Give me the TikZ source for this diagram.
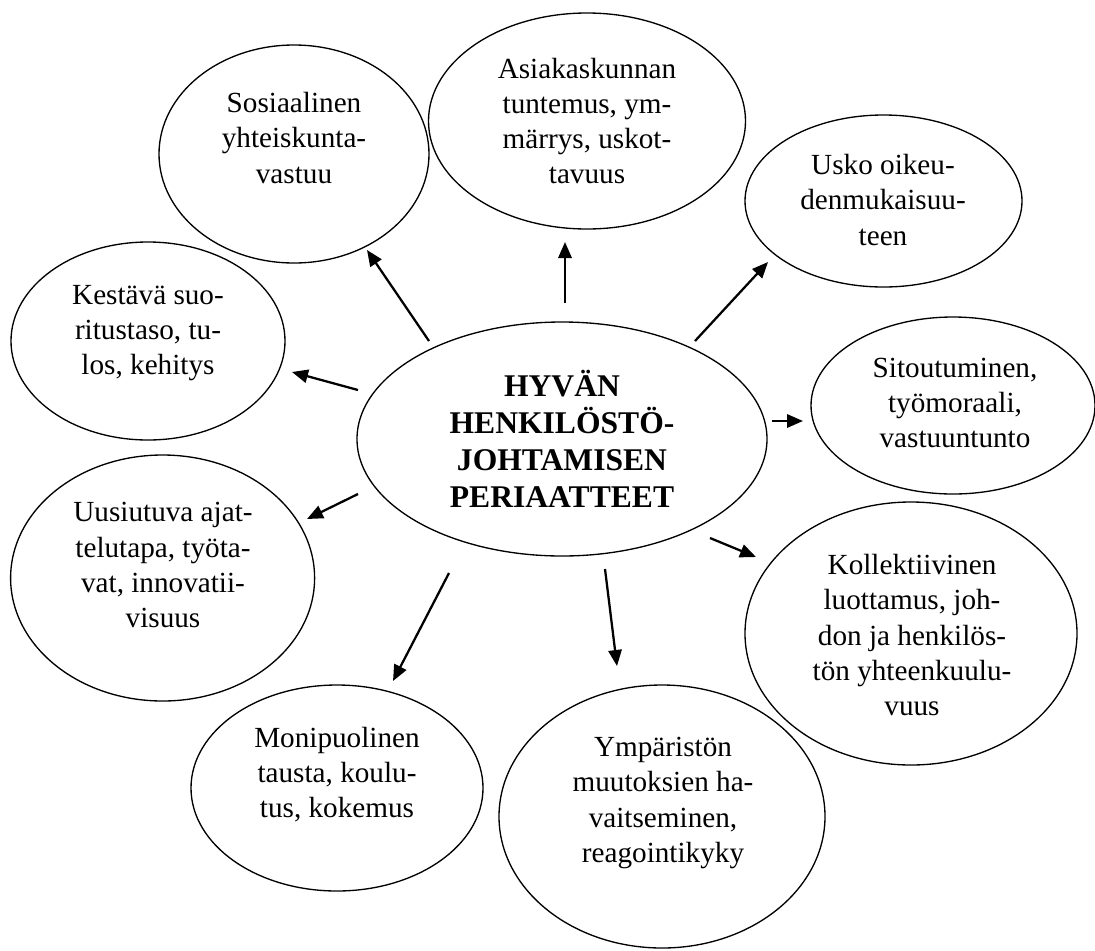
\documentclass[tikz,border=0pt]{standalone}
\usepackage{fontspec}
\setmainfont{Liberation Serif}
\usetikzlibrary{shapes.geometric,arrows.meta}
\begin{document}
\begin{tikzpicture}[x=0.75pt,y=-0.75pt,
  bubble/.style 2 args={ellipse,draw,line width=1pt,inner sep=0pt,
    minimum width=#1*1.5pt,minimum height=#2*1.5pt},
  txt/.style={align=center,inner sep=0pt,font=\fontsize{21.9}{26.3}\selectfont},
  headtxt/.style={align=center,inner sep=0pt,font=\bfseries\fontsize{23.7}{27.8}\selectfont},
  arr/.style={line width=1.7pt,-{Triangle[length=12pt,width=10pt]}}]
\useasboundingbox (0,0) rectangle (1095,950);

% central principle
\node[bubble={205}{117}] (hub) at (562,439) {};
\node[headtxt] (hubT) at (562,439) {HYVÄN\\HENKILÖSTÖ-\\JOHTAMISEN\\PERIAATTEET};

% surrounding principles
\node[bubble={135}{109}] (sos) at (294,154) {};
\node[txt] (sosT) at (294,138) {Sosiaalinen\\yhteiskunta-\\vastuu};

\node[bubble={158.5}{108}] (asi) at (587,121) {};
\node[txt] (asiT) at (587,121) {Asiakaskunnan\\tuntemus, ym-\\märrys, uskot-\\tavuus};

\node[bubble={138.5}{86}] (usk) at (883.5,201) {};
\node[txt] (uskT) at (883,200) {Usko oikeu-\\denmukaisuu-\\teen};

\node[bubble={137}{99}] (kes) at (148,341) {};
\node[txt] (kesT) at (148,333) {Kestävä suo-\\ritustaso, tu-\\los, kehitys};

\node[bubble={142}{88.5}] (sit) at (953,405.5) {};
\node[txt] (sitT) at (955,403) {Sitoutuminen,\\työmoraali,\\vastuuntunto};

\node[bubble={152}{123}] (uus) at (162.6,578) {};
\node[txt] (uusT) at (163,565) {Uusiutuva ajat-\\telutapa, työta-\\vat, innovatii-\\visuus};

\node[bubble={166}{131.5}] (kol) at (911,633.5) {};
\node[txt] (kolT) at (912,635) {Kollektiivinen\\luottamus, joh-\\don ja henkilös-\\tön yhteenkuulu-\\vuus};

\node[bubble={146}{103}] (mon) at (337,788) {};
\node[txt] (monT) at (337,775) {Monipuolinen\\tausta, koulu-\\tus, kokemus};

\node[bubble={163}{131.5}] (ymp) at (662,816.5) {};
\node[txt] (ympT) at (663,803) {Ympäristön\\muutoksien ha-\\vaitseminen,\\reagointikyky};

% arrow end points
\coordinate (sosA) at (429,341);  \coordinate (sosB) at (367,250);
\coordinate (asiA) at (565,303);  \coordinate (asiB) at (565,242);
\coordinate (uskA) at (695,341);  \coordinate (uskB) at (768,262);
\coordinate (sitA) at (772,421);  \coordinate (sitB) at (803,421);
\coordinate (kesA) at (358,390);  \coordinate (kesB) at (292,372);
\coordinate (uusA) at (358,494);  \coordinate (uusB) at (307,519);
\coordinate (monA) at (449,573);  \coordinate (monB) at (393,681);
\coordinate (ympA) at (605,569);  \coordinate (ympB) at (617,666);
\coordinate (kolA) at (710,538);  \coordinate (kolB) at (756,557);

\draw[arr] (sosA) -- (sosB);
\draw[arr] (asiA) -- (asiB);
\draw[arr] (uskA) -- (uskB);
\draw[arr] (sitA) -- (sitB);
\draw[arr] (kesA) -- (kesB);
\draw[arr] (uusA) -- (uusB);
\draw[arr] (monA) -- (monB);
\draw[arr] (ympA) -- (ympB);
\draw[arr] (kolA) -- (kolB);
\end{tikzpicture}
\end{document}
